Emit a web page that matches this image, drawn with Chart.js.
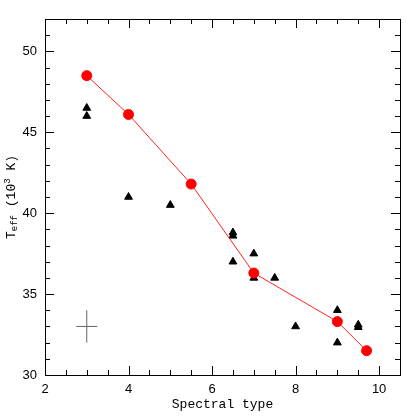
<!DOCTYPE html>
<html>
<head>
<meta charset="utf-8">
<script src="https://cdn.jsdelivr.net/npm/chart.js@4.4.0/dist/chart.umd.min.js"></script>
<style>
  html, body { margin: 0; padding: 0; background: #fff; }
  #wrap { width: 406px; height: 418px; }
</style>
</head>
<body>
<div id="wrap"><canvas id="teffChart"></canvas></div>
<script>
// calibration (red circles, joined by a line)
const calibX = [3, 4, 5.5, 7, 9, 9.7];
const calibY = [48.5, 46.1, 41.8, 36.3, 33.3, 31.5];

// individual stars (black triangles)
const starX = [3, 3, 4, 5, 6.5, 6.5, 6.5, 7, 7, 7.5, 8, 9, 9, 9.5, 9.5];
const starY = [46.5, 46.0, 41.0, 40.5, 38.8, 38.6, 37.0, 37.5, 36.0, 36.0, 33.0, 34.0, 32.0, 33.1, 32.95];

// typical error bar shown at lower left
const errCenter = [3, 33];
const errSize = [0.25, 1];

const xTicks = [2, 4, 6, 8, 10];
const yTicks = [30, 35, 40, 45, 50];
const xRange = [2, 10.5];
const yRange = [30, 52];

const toPts = (xs, ys) => xs.map((x, i) => ({ x: x, y: ys[i] }));

// inward ticks on all four sides + frame
const framePlugin = {
  id: 'frame',
  afterDatasetsDraw(chart) {
    const { ctx, chartArea: a, scales } = chart;
    const xs = scales.x, ys = scales.y;
    ctx.save();
    ctx.strokeStyle = '#000';
    ctx.lineWidth = 1;
    ctx.strokeRect(a.left + 0.5, a.top + 0.5, a.right - a.left, a.bottom - a.top);
    ctx.beginPath();
    for (let v = xRange[0]; v <= xRange[1] + 1e-9; v += 0.5) {
      const px = Math.round(xs.getPixelForValue(v)) + 0.5;
      const len = Math.abs(v % 2) < 1e-9 ? 9 : 5;
      ctx.moveTo(px, a.bottom); ctx.lineTo(px, a.bottom - len);
      ctx.moveTo(px, a.top); ctx.lineTo(px, a.top + len);
    }
    for (let v = yRange[0]; v <= yRange[1] + 1e-9; v += 1) {
      const py = Math.round(ys.getPixelForValue(v)) + 0.5;
      const len = v % 5 === 0 ? 9 : 5;
      ctx.moveTo(a.left, py); ctx.lineTo(a.left + len, py);
      ctx.moveTo(a.right, py); ctx.lineTo(a.right - len, py);
    }
    ctx.stroke();

    // y axis title: T_eff (10^3 K)
    const cy = (a.top + a.bottom) / 2;
    ctx.translate(12, cy);
    ctx.rotate(-Math.PI / 2);
    ctx.fillStyle = '#000';
    ctx.textBaseline = 'middle';
    const big = '13px "Liberation Mono"', small = '9px "Liberation Mono"';
    const parts = [
      ['T', big, 0], ['eff', small, 3], [' (10', big, 0], ['3', small, -4], [' K)', big, 0]
    ];
    let w = 0;
    parts.forEach(p => { ctx.font = p[1]; w += ctx.measureText(p[0]).width; });
    let x = -w / 2;
    parts.forEach(p => {
      ctx.font = p[1];
      ctx.fillText(p[0], x, p[2]);
      x += ctx.measureText(p[0]).width;
    });
    ctx.restore();
  }
};

new Chart(document.getElementById('teffChart'), {
  type: 'scatter',
  data: {
    datasets: [
      {
        label: 'Calibration',
        data: toPts(calibX, calibY),
        showLine: true,
        borderColor: '#ff2020',
        borderWidth: 1,
        backgroundColor: '#ff0000',
        pointBackgroundColor: '#ff0000',
        pointBorderColor: '#ff0000',
        pointRadius: 5,
        order: 0
      },
      {
        label: 'Stars',
        data: toPts(starX, starY),
        pointStyle: 'triangle',
        pointRadius: 4.5,
        pointBackgroundColor: '#000',
        pointBorderColor: '#000',
        order: 1
      },
      {
        label: 'err x',
        data: [{ x: errCenter[0] - errSize[0], y: errCenter[1] }, { x: errCenter[0] + errSize[0], y: errCenter[1] }],
        showLine: true,
        borderColor: '#666',
        borderWidth: 1,
        pointRadius: 0,
        order: 2
      },
      {
        label: 'err y',
        data: [{ x: errCenter[0], y: errCenter[1] - errSize[1] }, { x: errCenter[0], y: errCenter[1] + errSize[1] }],
        showLine: true,
        borderColor: '#666',
        borderWidth: 1,
        pointRadius: 0,
        order: 2
      }
    ]
  },
  options: {
    responsive: true,
    maintainAspectRatio: false,
    animation: false,
    layout: { padding: { top: 19, right: 5, left: 0, bottom: 0 } },
    plugins: { legend: { display: false }, tooltip: { enabled: false } },
    scales: {
      x: {
        type: 'linear',
        min: xRange[0], max: xRange[1],
        afterBuildTicks: s => { s.ticks = xTicks.map(v => ({ value: v })); },
        afterFit: s => { s.height = 43; },
        grid: { display: false, drawTicks: false },
        border: { display: false },
        ticks: { color: '#000', padding: 7, maxRotation: 0, font: { family: '"Liberation Sans"', size: 13 } },
        title: {
          display: true, text: 'Spectral type', color: '#000',
          font: { family: '"Liberation Mono"', size: 13 },
          padding: { top: 0, bottom: 6 }
        }
      },
      y: {
        type: 'linear',
        min: yRange[0], max: yRange[1],
        afterBuildTicks: s => { s.ticks = yTicks.map(v => ({ value: v })); },
        afterFit: s => { s.width = 45; },
        grid: { display: false, drawTicks: false },
        border: { display: false },
        ticks: { color: '#000', padding: 8, font: { family: '"Liberation Sans"', size: 13 } }
      }
    }
  },
  plugins: [framePlugin]
});
</script>
</body>
</html>
